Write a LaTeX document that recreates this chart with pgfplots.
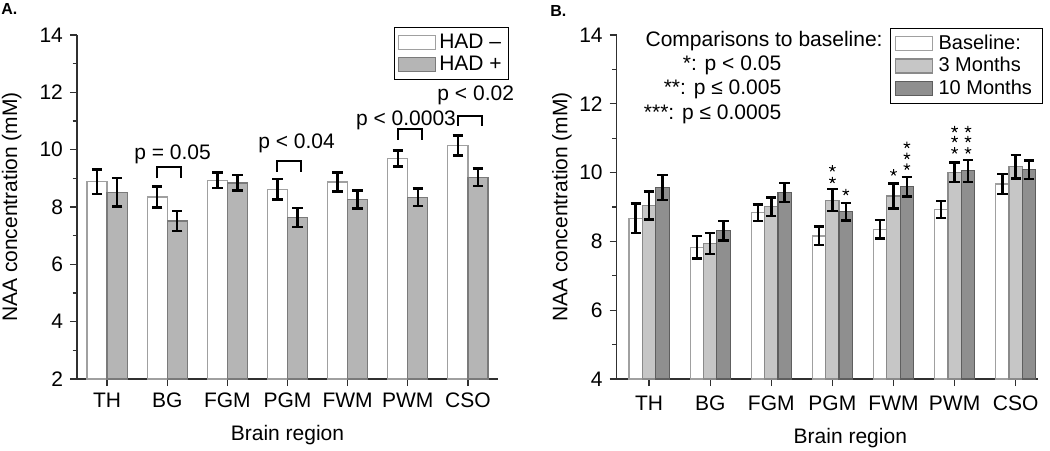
\documentclass[border=0pt]{standalone}
\usepackage{pgfplots}
\pgfplotsset{compat=1.18}
\usepackage{pgfplotstable}
\usepackage{fontspec}
\setmainfont{Liberation Sans}
\definecolor{edgeW}{HTML}{A0A0A0}
\definecolor{fillA}{HTML}{B5B5B5}
\definecolor{edgeA}{HTML}{7A7A7A}
\definecolor{fillL}{HTML}{C6C6C6}
\definecolor{edgeL}{HTML}{8A8A8A}
\definecolor{fillD}{HTML}{8F8F8F}
\definecolor{edgeD}{HTML}{5E5E5E}
\definecolor{axc}{HTML}{303030}

\pgfplotstableread{
x hn hne hp hpe
0 8.88 0.43 8.52 0.50
1 8.35 0.36 7.51 0.35
2 8.93 0.27 8.84 0.27
3 8.62 0.35 7.64 0.33
4 8.87 0.33 8.26 0.31
5 9.69 0.28 8.34 0.30
6 10.15 0.35 9.04 0.31
}\tableA

\pgfplotstableread{
x b be m3 m3e m10 m10e
0 8.67 0.43 9.04 0.41 9.57 0.36
1 7.83 0.32 7.94 0.31 8.31 0.29
2 8.83 0.24 9.01 0.27 9.42 0.28
3 8.16 0.27 9.20 0.32 8.86 0.25
4 8.35 0.27 9.32 0.36 9.59 0.28
5 8.93 0.25 10.01 0.29 10.05 0.32
6 9.67 0.29 10.17 0.34 10.08 0.27
}\tableB

\pgfplotstableread{
x y
3.0 10.12
3.0 9.78
3.219 9.43
4.0 10.0
4.219 10.80
4.219 10.48
4.219 10.17
5.0 11.26
5.0 10.97
5.0 10.64
5.219 11.26
5.219 10.97
5.219 10.64
}\starsB

\pgfplotsset{
  common/.style={
    scale only axis, width=210.5pt, height=172pt,
    clip mode=individual,
    axis x line*=bottom, axis y line*=left,
    axis line style={axc, line width=0.75pt},
    tick style={axc, line width=0.6pt},
    tick align=outside,
    major tick length=3.5pt, minor tick length=2.2pt,
    minor y tick num=1,
    xtick={0,...,6},
    xticklabels={TH,BG,FGM,PGM,FWM,PWM,CSO},
    ticklabel style={font=\fontsize{10.5}{12}\selectfont},
    /pgf/number format/assume math mode=true,
    label style={font=\fontsize{10.5}{12}\selectfont},
    xlabel={Brain region}, ylabel={NAA concentration (mM)},
    legend cell align=left,
  },
  mybar/.style={ybar, bar width=#1, bar shift=0pt, line width=0.6pt,
    legend image code/.code={\draw[##1, line width=0.6pt] (0pt,-3.5pt) rectangle (18.5pt,3.5pt);},
    error bars/y dir=both, error bars/y explicit,
    error bars/error bar style={black, line width=1.25pt},
    error bars/error mark options={black, rotate=90, line width=1.25pt, mark size=2.6pt}},
}

\begin{document}
\begin{tikzpicture}
\useasboundingbox (0,0) rectangle (525pt,-225pt);

% ---------- Panel A ----------
\begin{axis}[common,
  at={(38.5pt,-189.5pt)}, anchor=south west,
  xmin=-0.5, xmax=6.5, ymin=2, ymax=14,
  ytick={2,4,...,14},
  ylabel style={at={(axis description cs:-0.155,0.5)}, anchor=center},
  xlabel style={at={(axis description cs:0.5,-0.163)}, anchor=center},
  legend style={at={(1.026,1.023)}, anchor=north east, draw=black, line width=0.6pt,
    font=\fontsize{10.5}{11}\selectfont, inner xsep=1.5pt, inner ysep=1pt,
    row sep=-1.5pt, nodes={inner xsep=1.8pt}},
]
\addplot[mybar=0.3333, fill=white, draw=edgeW] table[x expr=\thisrow{x}-0.1667, y=hn, y error=hne]{\tableA};
\addlegendentry{HAD –}
\addplot[mybar=0.3333, fill=fillA, draw=edgeA] table[x expr=\thisrow{x}+0.1667, y=hp, y error=hpe]{\tableA};
\addlegendentry{HAD +}
% significance brackets
\draw[black, line width=1pt] (axis cs:0.833,9.0) -- (axis cs:0.833,9.41) -- (axis cs:1.23,9.41) -- (axis cs:1.23,9.0);
\draw[black, line width=1pt] (axis cs:2.833,9.23) -- (axis cs:2.833,9.6) -- (axis cs:3.23,9.6) -- (axis cs:3.23,9.23);
\draw[black, line width=1pt] (axis cs:4.833,10.34) -- (axis cs:4.833,10.72) -- (axis cs:5.23,10.72) -- (axis cs:5.23,10.34);
\draw[black, line width=1pt] (axis cs:5.833,10.83) -- (axis cs:5.833,11.19) -- (axis cs:6.23,11.19) -- (axis cs:6.23,10.83);
\node[anchor=base, font=\fontsize{10.5}{12}\selectfont] at (axis cs:1.09,9.66) {p = 0.05};
\node[anchor=base, font=\fontsize{10.5}{12}\selectfont] at (axis cs:3.15,10.05) {p < 0.04};
\node[anchor=base, font=\fontsize{10.5}{12}\selectfont] at (axis cs:4.97,10.86) {p < 0.0003};
\node[anchor=base, font=\fontsize{10.5}{12}\selectfont] at (axis cs:6.13,11.73) {p < 0.02};
\end{axis}

% ---------- Panel B ----------
\begin{axis}[common,
  at={(308.35pt,-189.5pt)}, anchor=south west,
  xmin=-0.53, xmax=6.36, ymin=4, ymax=14,
  ytick={4,6,...,14},
  ylabel style={at={(axis description cs:-0.13,0.5)}, anchor=center},
  xlabel style={at={(axis description cs:0.555,-0.171)}, anchor=center},
  xticklabel style={yshift=-1.5pt},
  legend style={at={(1.012,1.02)}, anchor=north east, draw=black, line width=0.6pt,
    font=\fontsize{10}{10.5}\selectfont, inner xsep=2.5pt, inner ysep=1pt,
    row sep=-1.5pt, nodes={inner xsep=2.6pt}},
]
\addplot[mybar=0.219, fill=white, draw=edgeW] table[x expr=\thisrow{x}-0.219, y=b, y error=be]{\tableB};
\addlegendentry{Baseline:}
\addplot[mybar=0.219, fill=fillL, draw=edgeL] table[x=x, y=m3, y error=m3e]{\tableB};
\addlegendentry{3 Months}
\addplot[mybar=0.219, fill=fillD, draw=edgeD] table[x expr=\thisrow{x}+0.219, y=m10, y error=m10e]{\tableB};
\addlegendentry{10 Months}
\addplot[only marks, mark=star, mark size=1.7pt, black, mark options={line width=0.5pt}, forget plot] table[x=x, y=y]{\starsB};
\end{axis}

% ---------- Text annotations ----------
\node[anchor=north west, inner sep=0, font=\bfseries\fontsize{8}{9}\selectfont] at (0.5pt,-1.3pt) {A.};
\node[anchor=north west, inner sep=0, font=\bfseries\fontsize{8}{9}\selectfont] at (275pt,-2.3pt) {B.};
\begin{scope}[every node/.style={inner sep=0, font=\fontsize{10.5}{12}\selectfont}]
\node[anchor=base east] at (441.5pt,-23.3pt) {Comparisons to baseline:};
\node[anchor=base east] at (390.8pt,-35pt) {*: p < 0.05};
\node[anchor=base east] at (390.8pt,-47.2pt) {**: p ≤ 0.005};
\node[anchor=base east] at (390.8pt,-59.6pt) {***: p ≤ 0.0005};
\end{scope}
\end{tikzpicture}
\end{document}
